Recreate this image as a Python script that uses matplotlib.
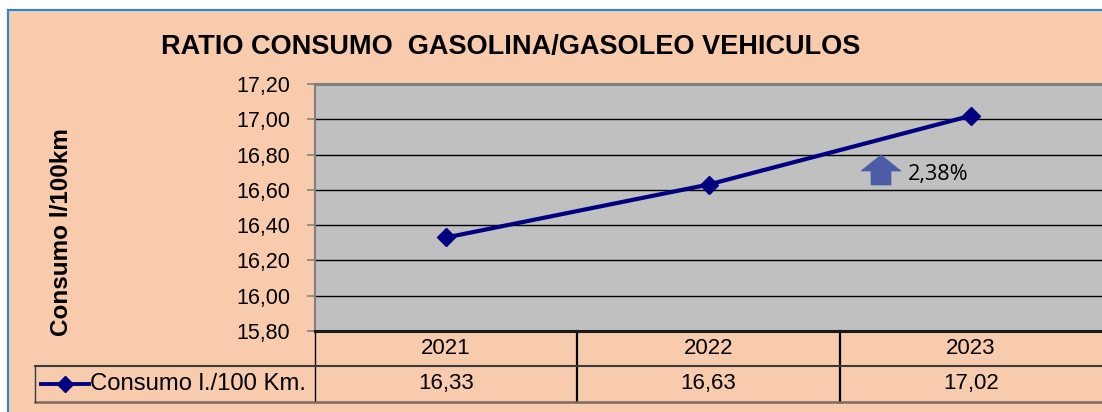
import matplotlib
matplotlib.use("Agg")
import matplotlib.pyplot as plt
from matplotlib.patches import Rectangle, Polygon
from matplotlib.lines import Line2D
from matplotlib.ticker import FixedLocator, FuncFormatter

# ---- data ----
title = "RATIO CONSUMO  GASOLINA/GASOLEO VEHICULOS"
ylabel = "Consumo l/100km"
series_name = "Consumo l./100 Km."
years = ["2021", "2022", "2023"]
values = [16.33, 16.63, 17.02]
value_labels = ["16,33", "16,63", "17,02"]
yticks = [15.80, 16.00, 16.20, 16.40, 16.60, 16.80, 17.00, 17.20]
change_label = "2,38%"

W, H = 1102, 412
PEACH = "#F8CBAD"
GRAY = "#C0C0C0"
NAVY = "#000080"
ARROW = "#4A5DA6"
BORDER = "#1E88E5"
FONT = "Liberation Sans"

def fx(px):
    return px / W

def fy(py):
    return 1 - py / H

fig = plt.figure(figsize=(W / 100, H / 100), dpi=100, facecolor="white")

# outer chart area (cropped on the right and bottom, as in the original)
fig.patches.append(Rectangle((fx(8), 0), 1 - fx(8), fy(10), transform=fig.transFigure,
                             facecolor=PEACH, edgecolor="none", zorder=-10))
fig.lines.append(Line2D([fx(8), 1], [fy(10), fy(10)], transform=fig.transFigure,
                        color=BORDER, lw=1.5, zorder=-5))
fig.lines.append(Line2D([fx(8), fx(8)], [0, fy(10)], transform=fig.transFigure,
                        color=BORDER, lw=1.5, zorder=-5))

left, right, top, bottom = 315, 1102, 84, 331
ax = fig.add_axes([fx(left), fy(bottom), fx(right) - fx(left), fy(top) - fy(bottom)])
ax.set_zorder(1)
ax.set_facecolor(GRAY)

xs = list(range(len(years)))
ax.plot(xs, values, color=NAVY, lw=3.0, marker="D", markersize=9.5,
        markerfacecolor=NAVY, markeredgecolor=NAVY, zorder=5, clip_on=False)

ax.set_xlim(-0.5, len(years) - 0.5)
ax.set_ylim(yticks[0], yticks[-1])
ax.yaxis.set_major_locator(FixedLocator(yticks))
ax.yaxis.set_major_formatter(FuncFormatter(lambda v, p: f"{v:.2f}".replace(".", ",")))
ax.set_xticks([])
ax.grid(axis="y", color="black", lw=1.0)
ax.set_axisbelow(True)
ax.tick_params(axis="y", length=6, width=1.2, color="#808080", pad=12,
               labelsize=15.5)
for lab in ax.get_yticklabels():
    lab.set_fontfamily(FONT)
ax.spines["top"].set_color("#808080")
ax.spines["top"].set_linewidth(2.2)
ax.spines["left"].set_color("#808080")
ax.spines["left"].set_linewidth(1.5)
ax.spines["right"].set_visible(False)
ax.spines["bottom"].set_color("#1a1a1a")
ax.spines["bottom"].set_linewidth(2.2)

# title and y label
fig.text(fx(511), fy(47), title, ha="center", va="center", fontsize=19.5,
         fontweight="bold", family=FONT)
fig.text(fx(61), fy(232), ylabel, ha="center", va="center", rotation=90,
         fontsize=17.5, fontweight="bold", family=FONT)

# data table
row2_y, row3_y = 366, 402
ty = lambda py: -(py - bottom) / (bottom - top)
xt = ax.get_xaxis_transform()
for i, yr in enumerate(years):
    ax.text(i, ty(349), yr, transform=xt, ha="center", va="center",
            fontsize=16, family=FONT, clip_on=False)
    ax.text(i, ty(384), value_labels[i], transform=xt, ha="center", va="center",
            fontsize=16, family=FONT, clip_on=False)
for b in [-0.5 + k for k in range(len(years))]:
    ax.add_line(Line2D([b, b], [0, ty(row3_y)], transform=xt, color="black",
                       lw=1.6 if b > -0.5 else 1.0, clip_on=False))
fig.lines.append(Line2D([fx(35), 1], [fy(row2_y), fy(row2_y)],
                        transform=fig.transFigure, color="#3a3a3a", lw=1.5))
fig.lines.append(Line2D([fx(35), 1], [fy(row3_y), fy(row3_y)],
                        transform=fig.transFigure, color="#7a6a60", lw=1.8))
fig.lines.append(Line2D([fx(35), fx(35)], [fy(row2_y), fy(row3_y)],
                        transform=fig.transFigure, color="#3a3a3a", lw=1.0))
# legend key in table
fig.lines.append(Line2D([fx(41), fx(89)], [fy(384), fy(384)], transform=fig.transFigure,
                        color=NAVY, lw=2.8))
fig.lines.append(Line2D([fx(65)], [fy(384)], transform=fig.transFigure, color=NAVY,
                        marker="D", markersize=8, markerfacecolor=NAVY))
fig.text(fx(90), fy(384), series_name, ha="left", va="center", fontsize=17.2, family=FONT)

# change annotation arrow
arrow_px = [(881, 155), (861, 171), (871, 171), (871, 185), (891, 185), (891, 171), (901, 171)]
fig.patches.append(Polygon([(fx(a), fy(b)) for a, b in arrow_px], closed=True,
                           transform=fig.transFigure, facecolor=ARROW, edgecolor=ARROW,
                           lw=0.5, zorder=10))
fig.text(fx(908), fy(175), change_label, ha="left", va="center", fontsize=15.6,
         family="Open Sans", zorder=10)

fig.savefig("out.png", dpi=100, facecolor="white")
